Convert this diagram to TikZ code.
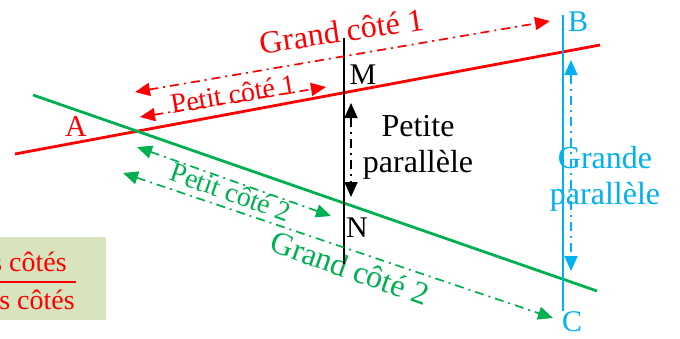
\documentclass[tikz,border=0pt]{standalone}
\usepackage{fontspec}
\setmainfont{Liberation Serif}
\usetikzlibrary{arrows.meta}
\definecolor{rouge}{HTML}{FF0000}
\definecolor{vert}{HTML}{00B050}
\definecolor{bleu}{HTML}{00B0F0}
\definecolor{fond}{HTML}{D7E4BD}

\begin{document}
\begin{tikzpicture}[x=1pt, y=-1pt, line width=2.5pt]
  \tikzstyle{point} = [inner sep=0pt, font=\fontsize{30}{32}\selectfont]
  \tikzstyle{bigtext} = [inner sep=0pt, font=\fontsize{32}{36}\selectfont, align=center]
  \tikzstyle{smalltext} = [inner sep=0pt, font=\fontsize{28}{30}\selectfont]
  \tikzstyle{line} = [draw, line width=2.8pt]
  \tikzstyle{measure} = [draw, line width=1.7pt,
    dash pattern=on 9pt off 5pt on 2pt off 5pt,
    {Triangle[length=15pt,width=13pt]}-{Triangle[length=15pt,width=13pt]}]

  \useasboundingbox (0,0) rectangle (680,338);
  \clip (0,0) rectangle (680,338);

  % Place coordinates
  \coordinate (r1) at (15,154);   \coordinate (r2) at (600,45);
  \coordinate (g1) at (33,95);    \coordinate (g2) at (597,291);
  \coordinate (m1) at (344,38);   \coordinate (m2) at (344,264);
  \coordinate (b1) at (563,15);   \coordinate (b2) at (563,311);
  \coordinate (pp1) at (351,103); \coordinate (pp2) at (351,197);
  \coordinate (gp1) at (571,60);  \coordinate (gp2) at (571,271);
  \coordinate (gc1a) at (135,92); \coordinate (gc1b) at (550,21);
  \coordinate (pc1a) at (140,117); \coordinate (pc1b) at (326,87);
  \coordinate (pc2a) at (137,147); \coordinate (pc2b) at (331,216);
  \coordinate (gc2a) at (123,173); \coordinate (gc2b) at (553,318);

  % Ratio box
  \fill [fond] (-10,237) rectangle (106,320);
  \node [smalltext, rouge, anchor=east] (num) at (68,262) {s côtés};
  \node [smalltext, rouge, anchor=east] (den) at (76,300) {s côtés};
  \coordinate (bar1) at (-10,282); \coordinate (bar2) at (76,282);
  \path [draw, rouge, line width=2pt] (bar1) -- (bar2);

  % Place nodes
  \node [point, rouge] (A) at (76,127) {A};
  \node [point] (M) at (363,75) {M};
  \node [point] (N) at (357,228) {N};
  \node [point, bleu] (B) at (578,22) {B};
  \node [point, bleu] (C) at (572,322) {C};

  \node [bigtext, rouge, rotate=8.5] (gc1) at (342,31) {Grand côté 1};
  \node [smalltext, rouge, rotate=9.5] (pc1) at (233,94) {Petit côté 1};
  \node [smalltext, vert, rotate=-19.6] (pc2) at (231,192) {Petit côté 2};
  \node [bigtext, vert, rotate=-19.5] (gc2) at (350,268) {Grand côté 2};
  \node [bigtext] (petite) at (418,147) {Petite\\parallèle};
  \node [bigtext, bleu] (grande) at (605,179) {Grande\\parallèle};

  % Draw lines
  \path [line, rouge] (r1) -- (r2);
  \path [line, vert] (g1) -- (g2);
  \path [line, black] (m1) -- (m2);
  \path [line, bleu] (b1) -- (b2);

  % Draw measures
  \path [measure, rouge] (gc1a) -- (gc1b);
  \path [measure, rouge] (pc1a) -- (pc1b);
  \path [measure, vert] (pc2a) -- (pc2b);
  \path [measure, vert] (gc2a) -- (gc2b);
  \path [measure, black] (pp1) -- (pp2);
  \path [measure, bleu] (gp1) -- (gp2);

\end{tikzpicture}
\end{document}
